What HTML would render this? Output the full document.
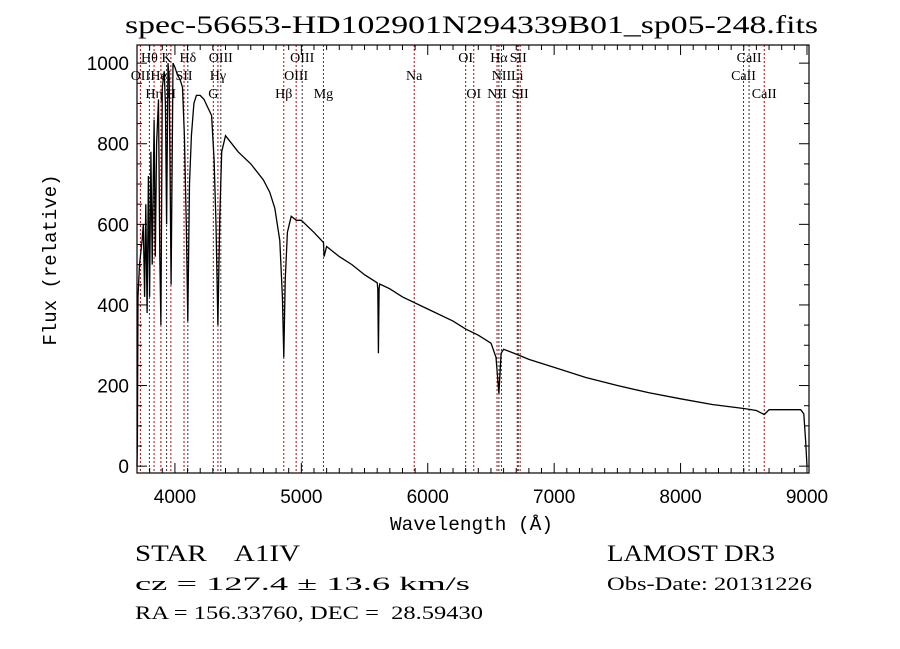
<!DOCTYPE html>
<html><head><meta charset="utf-8"><style>
html,body{margin:0;padding:0;background:#fff;}
svg{display:block;}
text{fill:#000;}
</style></head><body>
<svg id="chart" width="900" height="649" xmlns="http://www.w3.org/2000/svg">
<text x="125" y="33" textLength="693" lengthAdjust="spacingAndGlyphs" font-family="Liberation Serif, serif" font-size="25">spec-56653-HD102901N294339B01_sp05-248.fits</text>
<g id="lines"></g>
<g id="labels"></g>
<g id="ticks"></g>
<path id="spec" fill="none" stroke="#000" stroke-width="1.3"/>
<rect x="137" y="45" width="672" height="428" fill="none" stroke="#000" stroke-width="1.2"/>
<text x="390" y="530" textLength="163" lengthAdjust="spacingAndGlyphs" font-family="Liberation Mono, monospace" font-size="19">Wavelength (Å)</text>
<text transform="translate(56,260) rotate(-90)" text-anchor="middle" font-family="Liberation Mono, monospace" font-size="19">Flux (relative)</text>
<text x="135" y="561" textLength="165" lengthAdjust="spacingAndGlyphs" xml:space="preserve" font-family="Liberation Serif, serif" font-size="23">STAR    A1IV</text>
<text x="607" y="561" textLength="168" lengthAdjust="spacingAndGlyphs" font-family="Liberation Serif, serif" font-size="23">LAMOST DR3</text>
<text x="135" y="590" textLength="335" lengthAdjust="spacingAndGlyphs" font-family="Liberation Serif, serif" font-size="19">cz = 127.4 ± 13.6 km/s</text>
<text x="607" y="590" textLength="205" lengthAdjust="spacingAndGlyphs" font-family="Liberation Serif, serif" font-size="19">Obs-Date: 20131226</text>
<text x="135" y="619" textLength="348" lengthAdjust="spacingAndGlyphs" xml:space="preserve" font-family="Liberation Serif, serif" font-size="19">RA = 156.33760, DEC =  28.59430</text>
</svg>
<script>
const wave=[3700,3703,3708,3720,3740,3750,3760,3770,3780,3790,3800,3810,3820,3835,3845,3855,3870,3880,3889,3900,3915,3925,3934,3945,3955,3970,3985,4000,4020,4040,4060,4075,4090,4102,4115,4130,4150,4170,4200,4230,4260,4290,4310,4325,4340,4355,4370,4400,4450,4500,4600,4700,4750,4790,4830,4850,4861,4872,4890,4920,4960,5000,5100,5175,5180,5200,5300,5400,5500,5600,5605,5610,5615,5620,5700,5800,6000,6200,6300,6400,6500,6540,6563,6580,6600,6700,6800,7000,7250,7500,7750,8000,8250,8500,8600,8662,8700,8800,8900,8950,8975,8990,9000];
const flux=[0,60,420,500,560,600,420,650,380,720,420,780,500,860,520,800,910,520,350,940,980,900,600,1000,960,450,1000,990,970,960,940,820,600,360,700,820,900,920,920,910,890,870,760,600,350,620,780,820,800,780,750,710,680,640,560,420,270,460,580,620,610,610,580,555,520,545,520,500,475,455,440,280,440,452,440,420,390,360,340,325,305,270,180,280,290,278,265,245,220,200,182,167,153,143,138,128,140,140,140,140,130,60,0];
const lineWaves=[3727,3798,3835,3889,3934,3968,4072,4102,4304,4340,4363,4861,4959,5007,5175,5893,6300,6364,6548,6563,6583,6708,6716,6731,8498,8542,8662];
const lineNames=["OII","Hθ","Hη","HeI","K","H","SII","Hδ","G","Hγ","OIII","Hβ","OIII","OIII","Mg","Na","OI","OI","NII","Hα","NII","Li","SII","SII","CaII","CaII","CaII"];
const lineRows=[1,0,2,1,0,2,1,0,2,1,0,2,1,0,2,1,0,2,2,0,1,1,0,2,1,0,2];
const xTicks=[4000,5000,6000,7000,8000,9000];
const yTicks=[0,200,400,600,800,1000];
const X0=137,X1=809,Y0=473,Y1=45,WMIN=3700,WMAX=9016,FMIN=-17,FMAX=1045;
const xs=w=>X0+(w-WMIN)/(WMAX-WMIN)*(X1-X0);
const ys=f=>Y0-(f-FMIN)/(FMAX-FMIN)*(Y0-Y1);
const NS="http://www.w3.org/2000/svg";
function mk(tag,attrs,parent){const e=document.createElementNS(NS,tag);for(const k in attrs)e.setAttribute(k,attrs[k]);parent.appendChild(e);return e;}
const gl=document.getElementById('lines'),glab=document.getElementById('labels'),gt=document.getElementById('ticks');
lineWaves.forEach((w,i)=>{
  const l=mk('line',{x1:xs(w),x2:xs(w),y1:Y1,y2:Y0,stroke:(i%3==1?'#333':'#c00000'),'stroke-width':1,'stroke-dasharray':'2,2'},gl);
  
  
  const t=mk('text',{x:xs(w),y:62+lineRows[i]*18,'text-anchor':'middle','font-family':'Liberation Serif, serif','font-size':14},glab);
  t.textContent=lineNames[i];
  
  
});
for(let w=3700;w<=9000;w+=100){
  const major=w%1000===0;const len=major?10:5;
  mk('line',{x1:xs(w),x2:xs(w),y1:Y0,y2:Y0-len,stroke:'#000'},gt);
  mk('line',{x1:xs(w),x2:xs(w),y1:Y1,y2:Y1+len,stroke:'#000'},gt);
}
for(let f=0;f<=1000;f+=50){
  const major=f%200===0;const len=major?10:5;
  mk('line',{x1:X0,x2:X0+len,y1:ys(f),y2:ys(f),stroke:'#000'},gt);
  mk('line',{x1:X1,x2:X1-len,y1:ys(f),y2:ys(f),stroke:'#000'},gt);
}
xTicks.forEach(v=>{const t=mk('text',{x:xs(v),y:Y0+30,'text-anchor':'middle','font-family':'Liberation Sans, sans-serif','font-size':19},gt);t.textContent=v;
  
  });
yTicks.forEach(v=>{const t=mk('text',{x:X0-8,y:ys(v)+7,'text-anchor':'end','font-family':'Liberation Sans, sans-serif','font-size':19},gt);t.textContent=v;
  
  });
let d='';wave.forEach((w,i)=>{d+=(i?'L':'M')+xs(w).toFixed(1)+','+ys(flux[i]).toFixed(1);});
document.getElementById('spec').setAttribute('d',d);
</script>
</body></html>
